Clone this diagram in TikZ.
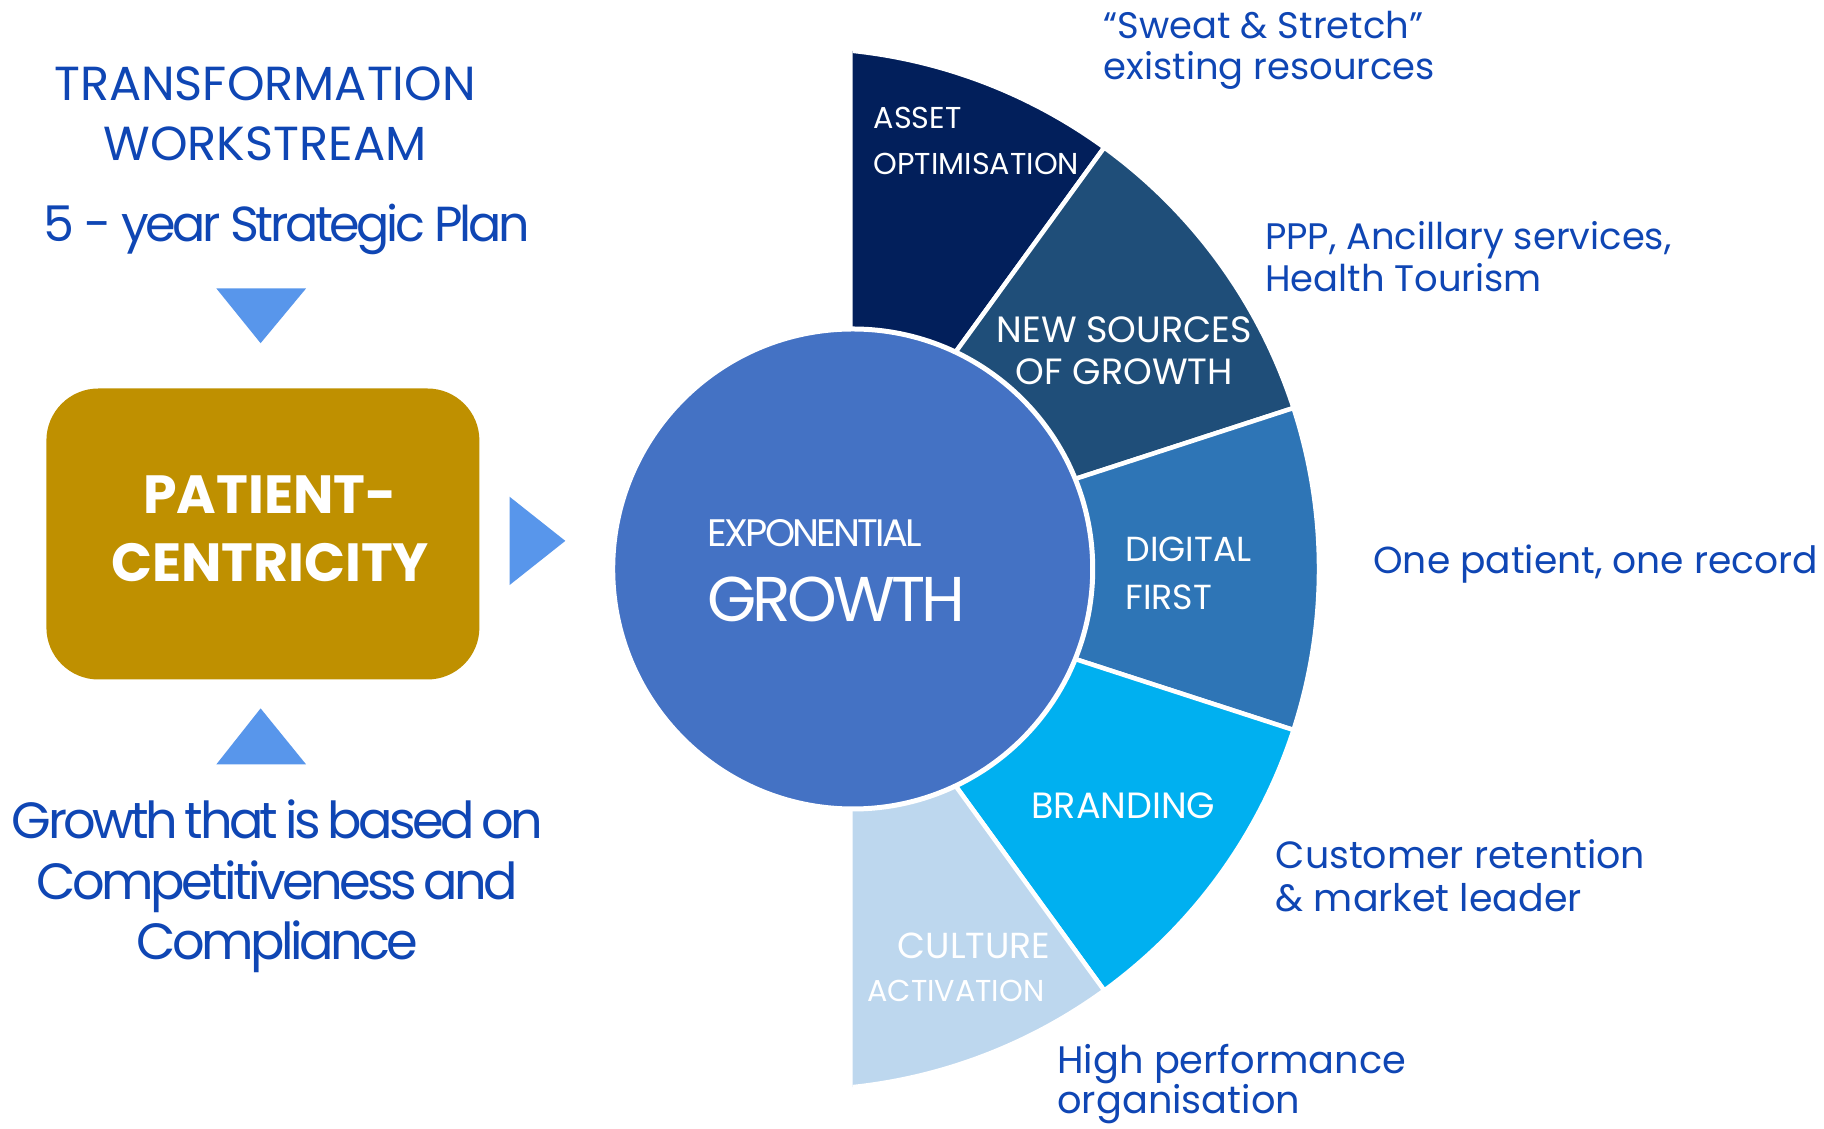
\documentclass[tikz,border=0pt]{standalone}
\usepackage{fontspec}
\setmainfont{Poppins}
\usepackage{tikz}
\definecolor{colAsset}{RGB}{2,31,91}
\definecolor{colSources}{RGB}{31,78,121}
\definecolor{colDigital}{RGB}{46,117,182}
\definecolor{colBrand}{RGB}{0,176,240}
\definecolor{colCulture}{RGB}{189,215,238}
\definecolor{colCore}{RGB}{68,114,196}
\definecolor{colPatient}{RGB}{191,144,0}
\definecolor{colTri}{RGB}{88,150,235}
\definecolor{colText}{RGB}{15,70,180}
\newcommand{\fsz}[2]{\fontsize{#1}{#2}\selectfont}
\newcommand{\tightwords}{\spaceskip=0.13em\relax}

\begin{document}
\begin{tikzpicture}[x=0.1mm, y=0.1mm,
    seglabel/.style={text=white, inner sep=0pt, align=left, anchor=base west},
    note/.style={text=colText, inner sep=0pt, align=left, anchor=base west},
    heading/.style={text=colText, inner sep=0pt, align=center, anchor=base}]

\useasboundingbox (0,0) rectangle (1824,1128);

\def\R{521}
\coordinate (ringC) at (798,559);
\coordinate (coreC) at (852.7,559);

% Anneau : secteurs de 36 degres, coupes a gauche
\begin{scope}
  \clip (852.7,0) rectangle (1824,1128);
  \foreach \a/\b/\col in {54/90/colAsset, 18/54/colSources, -18/18/colDigital,
                          -54/-18/colBrand, -90/-54/colCulture} {
    \filldraw[fill=\col, draw=white, line width=0.45mm]
      (ringC) -- ++(\a:\R) arc[start angle=\a, end angle=\b, radius=\R] -- cycle;
  }
\end{scope}

% Cercle central
\filldraw[fill=colCore, draw=white, line width=0.5mm] (coreC) circle[radius=240];
\node[anchor=base west, inner sep=0pt, text=white,
      font={\fsz{10.9}{13}\addfontfeatures{LetterSpace=-7}}] (expo) at (706.7,581.3) {EXPONENTIAL};
\node[anchor=base west, inner sep=0pt, text=white,
      font={\fsz{18}{22}\addfontfeatures{LetterSpace=-6}}] (growth) at (706.7,506.3) {GROWTH};

% Etiquettes des secteurs (ancrees sur la derniere ligne)
\node[seglabel, font=\fsz{8.6}{13.3}] (asset) at (873,953) {ASSET\\OPTIMISATION};
\node[seglabel, align=center, anchor=base, font=\fsz{10.4}{12}] (sources) at (1124.3,743) {NEW SOURCES\\OF GROWTH};
\node[seglabel, font=\fsz{9.9}{13.6}] (digital) at (1125,518.4) {DIGITAL\\FIRST};
\node[seglabel, font=\fsz{10.4}{12}] (brand) at (1030.7,309) {BRANDING};
\node[seglabel, font=\fsz{10.3}{12}] (culture) at (897,169.5) {CULTURE};
\node[seglabel, font=\fsz{8.6}{12}] (activ) at (866.6,126.4) {ACTIVATION};

% Notes a droite
\node[note, font=\fsz{10.5}{11.9}] (sweat) at (1103,1048) {``Sweat \& Stretch''\\existing resources};
\node[note, font=\fsz{10.5}{12.2}] (ppp) at (1264.5,836) {PPP, Ancillary services,\\Health Tourism};
\node[note, font=\fsz{10.7}{12}] (record) at (1372.7,554.5) {One patient, one record};
\node[note, font=\fsz{10.8}{12}] (retention) at (1275,217) {Customer retention\\\& market leader};
\node[note, font=\fsz{10.9}{11.4}] (perf) at (1056.7,14.7) {High performance\\organisation};

% Colonne de gauche
\node[heading, font=\fsz{13.6}{17.2}] (workstream) at (265,967.5) {TRANSFORMATION\\WORKSTREAM};
\node[heading, font={\fsz{14}{17}\addfontfeatures{LetterSpace=-7}}] (plan) at (286.7,886.3) {5 - year Strategic Plan};
\fill[colTri] (216.4,839.5) -- (306,839.5) -- (260.6,784.8) -- cycle;

\node[fill=colPatient, rounded corners=5.2mm, minimum width=43.3mm,
      minimum height=29.1mm, inner sep=0pt] (patient) at (262.9,594) {};
\node[anchor=base, align=center, inner sep=0pt, text=white,
      font=\bfseries\fsz{15.3}{19.5}] (patientTxt) at (270,546.4) {PATIENT-\\CENTRICITY};
\fill[colTri] (509.5,631.3) -- (509.5,542.9) -- (565.3,587.1) -- cycle;

\fill[colTri] (216.4,363.7) -- (306,363.7) -- (260.6,419.6) -- cycle;
\node[heading, font={\fsz{14.5}{17.2}\addfontfeatures{LetterSpace=-7}\tightwords}] (basis)
    at (277.4,168.3) {Growth that is based on\\Competitiveness and\\Compliance};

\end{tikzpicture}
\end{document}
